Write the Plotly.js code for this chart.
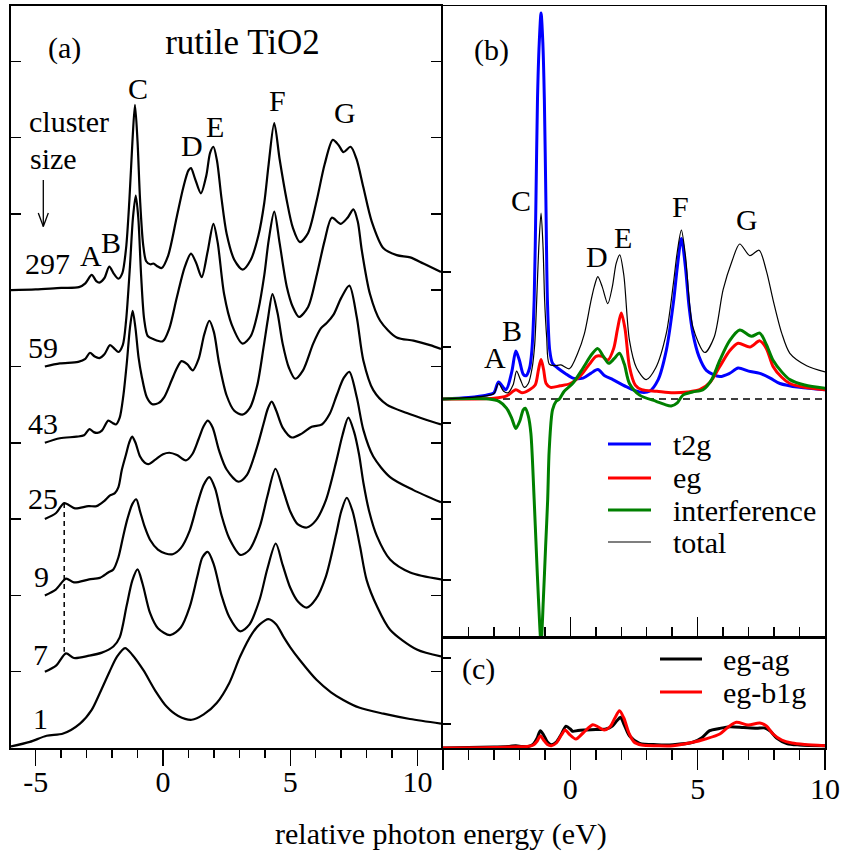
<!DOCTYPE html>
<html>
<head>
<meta charset="utf-8">
<script src="https://cdn.plot.ly/plotly-3.0.1.min.js"></script>
<style>html,body{margin:0;padding:0;background:#fff}#chart{width:844px;height:854px}</style>
</head>
<body>
<div id="chart"></div>
<script>
// ---------- Panel (a): spectra vs cluster size (relative intensity, stacked) ----------
const clusterSizes = ['297','59','43','25','9','7','1'];
const offsets = [6,5,4,3,2,1,0];

const E297 = [-5.97,-5.0,-4.0,-3.3,-3.05,-2.80,-2.62,-2.50,-2.30,-2.11,-1.92,-1.75,-1.60,-1.45,-1.32,-1.20,-1.10,-1.00,-0.90,-0.78,-0.66,-0.50,-0.38,-0.20,-0.05,0.20,0.54,0.80,1.00,1.10,1.25,1.49,1.70,1.85,1.98,2.12,2.30,2.50,2.80,3.13,3.45,3.75,3.98,4.15,4.37,4.58,4.86,5.10,5.38,5.70,6.04,6.35,6.67,6.90,7.09,7.37,7.60,7.87,8.20,8.66,9.18,9.71,10.23,10.92];
const I297 = [0,0.01,0.03,0.04,0.09,0.20,0.12,0.10,0.16,0.31,0.21,0.15,0.22,0.55,1.18,1.95,2.43,1.95,1.18,0.60,0.38,0.34,0.35,0.31,0.29,0.45,0.96,1.35,1.57,1.60,1.47,1.27,1.50,1.80,1.88,1.70,1.20,0.74,0.40,0.27,0.40,0.72,1.15,1.65,2.19,1.72,1.18,0.82,0.63,0.75,1.18,1.65,1.97,1.90,1.81,1.88,1.72,1.35,0.90,0.55,0.46,0.43,0.35,0.24];

const E59 = [-4.64,-4.05,-3.33,-3.05,-2.87,-2.68,-2.50,-2.30,-2.08,-1.90,-1.75,-1.58,-1.45,-1.30,-1.18,-1.07,-0.97,-0.86,-0.74,-0.60,-0.38,-0.01,0.25,0.54,0.85,1.10,1.30,1.52,1.75,1.98,2.15,2.40,2.70,3.13,3.45,3.75,3.98,4.15,4.37,4.58,4.86,5.10,5.34,5.70,6.04,6.35,6.63,6.98,7.25,7.48,7.65,7.81,8.13,8.53,9.18,9.84,10.49,10.92];
const I59 = [0,0.04,0.06,0.10,0.18,0.13,0.11,0.16,0.28,0.23,0.19,0.28,0.60,1.30,1.95,2.24,1.95,1.20,0.62,0.40,0.36,0.33,0.50,0.90,1.30,1.48,1.36,1.17,1.50,1.87,1.62,0.95,0.55,0.30,0.40,0.75,1.20,1.65,2.03,1.62,1.05,0.78,0.65,0.78,1.20,1.65,1.95,1.87,1.95,2.06,1.90,1.52,0.95,0.60,0.38,0.34,0.28,0.23];

const E43 = [-4.64,-4.05,-3.39,-3.10,-2.89,-2.72,-2.58,-2.40,-2.15,-1.98,-1.85,-1.70,-1.56,-1.42,-1.30,-1.19,-1.08,-0.96,-0.84,-0.64,-0.44,-0.18,0.05,0.34,0.55,0.73,0.95,1.17,1.40,1.62,1.82,2.00,2.20,2.50,2.80,3.12,3.40,3.70,3.95,4.12,4.30,4.50,4.70,4.95,5.19,5.50,5.90,6.20,6.43,6.70,7.00,7.32,7.61,7.87,8.26,8.79,9.58,10.36,10.92];
const I43 = [0,0.06,0.08,0.10,0.18,0.14,0.13,0.16,0.29,0.26,0.24,0.33,0.61,1.05,1.50,1.73,1.50,1.12,0.88,0.60,0.51,0.52,0.60,0.82,0.98,1.07,1.03,0.95,1.10,1.42,1.60,1.45,1.05,0.62,0.42,0.37,0.45,0.75,1.25,1.62,1.95,1.70,1.30,0.98,0.84,0.95,1.30,1.50,1.57,1.68,1.90,2.06,1.65,1.08,0.69,0.50,0.39,0.30,0.24];

const E25 = [-4.64,-4.20,-3.88,-3.46,-2.93,-2.61,-2.30,-2.08,-1.89,-1.75,-1.62,-1.45,-1.33,-1.21,-1.08,-0.90,-0.72,-0.58,-0.30,0.00,0.25,0.55,0.90,1.15,1.40,1.60,1.76,1.95,2.20,2.50,2.96,3.30,3.70,3.95,4.12,4.27,4.45,4.70,5.06,5.45,5.84,6.24,6.55,6.82,7.10,7.32,7.61,7.87,8.26,8.92,9.84,10.92];
const I25 = [0,0.08,0.21,0.14,0.17,0.17,0.24,0.31,0.34,0.42,0.64,0.85,1.00,1.08,1.00,0.82,0.74,0.72,0.78,0.85,0.87,0.84,0.77,0.85,1.05,1.22,1.29,1.20,0.90,0.65,0.49,0.58,0.95,1.25,1.45,1.54,1.42,1.20,1.07,1.12,1.21,1.24,1.38,1.62,1.85,1.93,1.60,1.17,0.82,0.55,0.38,0.22];

const E9 = [-4.64,-4.20,-3.81,-3.50,-2.90,-2.48,-2.15,-1.95,-1.75,-1.56,-1.40,-1.20,-1.05,-0.90,-0.72,-0.51,-0.20,0.10,0.38,0.70,1.05,1.35,1.60,1.82,2.05,2.30,2.60,3.05,3.40,3.80,4.10,4.42,4.70,5.00,5.30,5.65,6.00,6.40,6.80,7.05,7.28,7.50,7.70,7.87,8.10,8.40,8.92,9.71,10.92];
const I9 = [0,0.08,0.22,0.17,0.21,0.23,0.30,0.34,0.50,0.78,1.00,1.20,1.26,1.10,0.90,0.73,0.60,0.55,0.54,0.62,0.85,1.20,1.45,1.55,1.40,1.05,0.75,0.53,0.60,0.90,1.30,1.66,1.40,1.10,0.93,0.89,0.98,1.25,1.75,2.10,2.33,2.15,1.85,1.48,1.10,0.78,0.47,0.30,0.21];

const E7 = [-4.64,-4.20,-3.81,-3.50,-2.90,-2.40,-1.95,-1.70,-1.43,-1.20,-1.00,-0.80,-0.51,-0.20,0.28,0.70,1.05,1.35,1.55,1.76,2.00,2.30,2.60,3.03,3.40,3.80,4.10,4.43,4.70,5.00,5.30,5.65,6.00,6.40,6.80,7.00,7.22,7.45,7.74,8.00,8.40,8.92,9.97,10.92];
const I7 = [0,0.08,0.24,0.18,0.21,0.25,0.33,0.45,0.86,1.20,1.34,1.15,0.77,0.57,0.48,0.58,0.85,1.25,1.50,1.57,1.40,1.00,0.72,0.53,0.62,0.95,1.35,1.68,1.40,1.10,0.92,0.84,0.95,1.25,1.80,2.10,2.28,2.10,1.64,1.20,0.86,0.55,0.29,0.20];

const E1 = [-5.97,-5.23,-4.57,-3.92,-3.26,-2.80,-2.48,-2.10,-1.80,-1.49,-1.20,-0.77,-0.30,0.15,0.60,1.13,1.60,2.11,2.60,3.03,3.50,3.80,4.14,4.45,4.73,5.00,5.38,6.04,6.60,7.08,7.70,8.66,9.70,10.92];
const I1 = [0.02,0.08,0.16,0.19,0.32,0.50,0.72,1.00,1.20,1.31,1.22,1.02,0.75,0.54,0.42,0.37,0.44,0.59,0.85,1.20,1.50,1.62,1.69,1.62,1.46,1.32,1.15,0.89,0.73,0.63,0.53,0.45,0.38,0.32];

// dashed marker linking the pre-edge feature (cluster 25 down to cluster 7)
const dashE = [-3.88,-3.88];
const dashY = [3.21,1.26];

// ---------- Panel (b): decomposition ----------
const Eb_t2g = [-5,-4,-3.3,-3.0,-2.82,-2.53,-2.30,-2.14,-2.00,-1.85,-1.74,-1.60,-1.51,-1.42,-1.35,-1.29,-1.22,-1.15,-1.08,-1.02,-0.96,-0.90,-0.81,-0.70,-0.50,-0.20,0.10,0.50,0.80,1.08,1.35,1.67,2.19,2.72,3.11,3.45,3.77,4.05,4.20,4.36,4.52,4.66,4.81,5.05,5.34,5.87,6.25,6.59,7.00,7.44,7.85,8.23,9.00,10.0];
const Ib_t2g = [0,0.02,0.05,0.08,0.22,0.12,0.35,0.62,0.50,0.32,0.30,0.40,0.63,1.28,2.57,3.86,4.60,4.98,4.60,3.86,2.57,1.28,0.63,0.46,0.40,0.33,0.27,0.27,0.33,0.38,0.30,0.25,0.16,0.09,0.10,0.25,0.63,1.25,1.70,2.07,1.70,1.20,0.85,0.55,0.37,0.29,0.33,0.40,0.36,0.33,0.27,0.20,0.15,0.12];

const Eb_eg = [-5,-3.0,-2.50,-2.14,-1.90,-1.60,-1.38,-1.25,-1.15,-1.05,-0.95,-0.78,-0.40,0.0,0.40,0.75,1.01,1.25,1.47,1.70,1.85,2.00,2.15,2.32,2.55,2.80,3.40,4.03,4.60,5.08,5.50,5.87,6.25,6.59,7.05,7.44,7.70,7.96,8.30,8.62,9.20,10.0];
const Ib_eg = [0,0.01,0.04,0.12,0.08,0.12,0.18,0.38,0.51,0.38,0.20,0.15,0.17,0.20,0.30,0.45,0.55,0.55,0.50,0.65,0.90,1.11,0.90,0.42,0.18,0.12,0.10,0.08,0.09,0.12,0.22,0.42,0.62,0.72,0.67,0.75,0.65,0.42,0.28,0.20,0.15,0.12];

const Eb_int = [-5,-3.2,-2.80,-2.50,-2.30,-2.14,-1.98,-1.85,-1.77,-1.65,-1.55,-1.42,-1.33,-1.25,-1.15,-1.06,-0.97,-0.89,-0.83,-0.70,-0.56,-0.43,-0.24,0.09,0.50,0.85,1.08,1.30,1.51,1.72,1.93,2.12,2.32,2.72,3.37,3.70,3.96,4.20,4.42,4.80,5.21,5.55,5.87,6.25,6.65,7.11,7.44,7.70,7.96,8.30,8.62,9.20,10.0];
const Ib_int = [0,0,-0.03,-0.12,-0.25,-0.38,-0.28,-0.14,-0.12,-0.22,-0.44,-1.30,-2.00,-2.59,-3.15,-2.59,-1.90,-1.30,-0.66,-0.14,-0.03,0.0,0.10,0.20,0.40,0.58,0.65,0.55,0.46,0.52,0.59,0.45,0.20,0.05,-0.03,-0.07,-0.09,-0.05,0.05,0.09,0.12,0.25,0.50,0.75,0.89,0.81,0.85,0.70,0.50,0.35,0.25,0.18,0.14];

const Eb_tot = [-5,-3.3,-3.0,-2.82,-2.62,-2.45,-2.25,-2.11,-1.96,-1.81,-1.65,-1.50,-1.40,-1.32,-1.24,-1.15,-1.07,-1.01,-0.93,-0.83,-0.63,-0.37,-0.04,0.30,0.55,0.80,0.94,1.08,1.25,1.47,1.65,1.80,1.94,2.10,2.32,2.60,2.98,3.35,3.77,4.05,4.20,4.36,4.52,4.81,5.28,5.65,6.00,6.35,6.65,7.05,7.41,7.70,7.96,8.30,8.62,9.28,10.0];
const Ib_tot = [0,0.04,0.07,0.20,0.10,0.08,0.18,0.36,0.25,0.15,0.20,0.40,0.70,1.28,1.95,2.40,1.95,1.28,0.80,0.45,0.43,0.44,0.39,0.60,0.84,1.25,1.45,1.58,1.45,1.23,1.45,1.75,1.86,1.60,0.76,0.40,0.25,0.40,0.85,1.50,1.90,2.18,1.85,0.93,0.60,0.80,1.41,1.78,2.00,1.85,1.92,1.65,1.28,0.85,0.59,0.43,0.35];

// ---------- Panel (c): eg split ----------
const Ec_ag = [-5,-3.0,-2.40,-2.14,-1.90,-1.65,-1.45,-1.30,-1.18,-1.05,-0.90,-0.76,-0.55,-0.35,-0.17,0.00,0.09,0.30,0.62,1.00,1.40,1.65,1.82,1.97,2.12,2.32,2.72,3.40,4.03,4.81,5.15,5.47,5.85,6.26,6.80,7.31,7.64,7.85,8.10,8.50,9.00,10.0];
const Ic_ag = [0,0.1,0.15,0.23,0.15,0.15,0.4,1.0,1.73,1.3,0.6,0.33,0.6,1.4,2.17,1.9,1.67,1.75,1.80,1.85,1.90,2.2,2.7,3.07,2.3,1.23,0.47,0.33,0.33,0.57,1.0,1.73,1.95,2.13,2.05,1.97,2.0,1.7,1.0,0.45,0.3,0.23];
const Ec_b1g = [-5,-3.0,-2.14,-1.70,-1.45,-1.30,-1.18,-1.05,-0.90,-0.75,-0.55,-0.35,-0.20,-0.05,0.22,0.50,0.88,1.10,1.33,1.55,1.75,1.93,2.10,2.30,2.50,2.80,3.40,4.03,4.81,5.30,5.87,6.20,6.52,6.98,7.44,7.70,7.96,8.30,8.70,9.20,10.0];
const Ic_b1g = [0,0.05,0.12,0.15,0.3,0.7,1.23,0.8,0.35,0.23,0.5,1.3,1.8,1.4,0.9,1.5,2.33,2.1,1.8,2.1,3.0,3.73,3.0,1.5,0.6,0.3,0.23,0.23,0.57,0.9,1.4,2.1,2.57,2.3,2.5,2.2,1.4,0.8,0.5,0.35,0.23];

const peakLetters = ['A','B','C','D','E','F','G'];

// ---------- layout helpers (pixel -> paper) ----------
const W = 844, H = 854;
const PX = x => x / W;
const PY = y => 1 - y / H;
const FONT = 'Liberation Serif, Times New Roman, serif';
const FS = 30;

const aE = [E297,E59,E43,E25,E9,E7,E1];
const aI = [I297,I59,I43,I25,I9,I7,I1];

const traces = [];
aE.forEach((ex, i) => {
  traces.push({
    x: ex, y: aI[i].map(v => v + offsets[i]), xaxis: 'x', yaxis: 'y',
    mode: 'lines', name: clusterSizes[i], showlegend: false, hoverinfo: 'skip',
    line: {color: '#000', width: 2.2, shape: 'spline', smoothing: 0.8}
  });
});
traces.push({x: dashE, y: dashY, xaxis: 'x', yaxis: 'y', mode: 'lines', showlegend: false,
  line: {color: '#000', width: 1.5, dash: '5px,4px'}});

// panel b
traces.push({x: [-5, 10], y: [0, 0], xaxis: 'x2', yaxis: 'y2', mode: 'lines', showlegend: false,
  line: {color: '#000', width: 1.5, dash: '7px,5px'}});
const bSeries = [
  {n: 't2g', x: Eb_t2g, y: Ib_t2g, c: '#0000ff', w: 3},
  {n: 'eg', x: Eb_eg, y: Ib_eg, c: '#ff0000', w: 3},
  {n: 'interference', x: Eb_int, y: Ib_int, c: '#008000', w: 3},
  {n: 'total', x: Eb_tot, y: Ib_tot, c: '#000000', w: 1.2}
];
bSeries.forEach(s => traces.push({x: s.x, y: s.y, xaxis: 'x2', yaxis: 'y2', mode: 'lines', name: s.n,
  showlegend: false, line: {color: s.c, width: s.w, shape: 'spline', smoothing: 0.8}}));

// panel c
const cSeries = [
  {n: 'eg-ag', x: Ec_ag, y: Ic_ag, c: '#000000'},
  {n: 'eg-b1g', x: Ec_b1g, y: Ic_b1g, c: '#ff0000'}
];
cSeries.forEach(s => traces.push({x: s.x, y: s.y, xaxis: 'x3', yaxis: 'y3', mode: 'lines', name: s.n,
  showlegend: false, line: {color: s.c, width: 3, shape: 'spline', smoothing: 0.8}}));

// ---------- annotations ----------
const ann = [];
function txt(text, x, y, xref, yref, size, xanchor) {
  ann.push({text, x, y, xref, yref, showarrow: false, xanchor: xanchor || 'center', yanchor: 'middle',
    font: {family: FONT, size: size || FS, color: '#000'}});
}
// panel a peak letters
const aLetterE = [-2.84,-2.06,-1.00,1.13,2.04,4.48,7.15];
const aLetterY = [6.45,6.63,8.64,7.90,8.14,8.48,8.33];
peakLetters.forEach((L, i) => txt(L, aLetterE[i], aLetterY[i], 'x', 'y'));
// cluster size labels
const sizeLabelE = [-4.54,-4.73,-4.73,-4.73,-4.79,-4.80,-4.80];
const sizeLabelY = [6.35,5.25,4.25,3.27,2.25,1.22,0.39];
clusterSizes.forEach((s, i) => txt(s, sizeLabelE[i], sizeLabelY[i], 'x', 'y'));
// panel b peak letters
const bLetterE = [-2.96,-2.28,-1.94,1.05,2.06,4.32,6.95];
const bLetterY = [0.53,0.88,2.56,1.84,2.09,2.49,2.31];
peakLetters.forEach((L, i) => txt(L, bLetterE[i], bLetterY[i], 'x2', 'y2'));

txt('(a)', PX(64), PY(48), 'paper', 'paper');
txt('(b)', PX(491), PY(50), 'paper', 'paper');
txt('(c)', PX(479), PY(669), 'paper', 'paper');
txt('cluster', PX(69), PY(122), 'paper', 'paper');
txt('size', PX(54), PY(158), 'paper', 'paper');
txt('relative photon energy (eV)', PX(441), PY(834), 'paper', 'paper');

// legends (b) and (c)
const shapes = [];
const legB = [[444, 't2g'], [478, 'eg'], [510, 'interference'], [542, 'total']];
legB.forEach((l, i) => {
  shapes.push({type: 'line', xref: 'paper', yref: 'paper', x0: PX(608), x1: PX(651), y0: PY(l[0]), y1: PY(l[0]),
    line: {color: bSeries[i].c, width: bSeries[i].w}});
  txt(l[1], PX(671), PY(l[0]), 'paper', 'paper', FS, 'left');
});
const legC = [[659, 'eg-ag'], [692, 'eg-b1g']];
legC.forEach((l, i) => {
  shapes.push({type: 'line', xref: 'paper', yref: 'paper', x0: PX(660), x1: PX(702), y0: PY(l[0]), y1: PY(l[0]),
    line: {color: cSeries[i].c, width: 3}});
  txt(l[1], PX(721), PY(l[0]), 'paper', 'paper', FS, 'left');
});
// "cluster size" arrow
shapes.push({type: 'line', xref: 'paper', yref: 'paper', x0: PX(43.3), x1: PX(43.3), y0: PY(180), y1: PY(226.5), line: {color: '#000', width: 1.3}});
shapes.push({type: 'line', xref: 'paper', yref: 'paper', x0: PX(38.3), x1: PX(43.3), y0: PY(213), y1: PY(226.5), line: {color: '#000', width: 1.3}});
shapes.push({type: 'line', xref: 'paper', yref: 'paper', x0: PX(48.3), x1: PX(43.3), y0: PY(213), y1: PY(226.5), line: {color: '#000', width: 1.3}});

const axBase = {showgrid: false, zeroline: false, showline: true, linecolor: '#000', tickcolor: '#000',
  tickfont: {family: FONT, size: FS, color: '#000'}, fixedrange: true};

const layout = {
  width: W, height: H, margin: {l: 0, r: 0, t: 0, b: 0},
  paper_bgcolor: '#fff', plot_bgcolor: '#fff',
  font: {family: FONT, size: FS, color: '#000'},
  showlegend: false,
  title: {text: 'rutile TiO2', x: PX(242.5), y: PY(42), xref: 'paper', yref: 'paper', xanchor: 'center', yanchor: 'middle',
    font: {family: FONT, size: 35, color: '#000'}},
  xaxis: Object.assign({}, axBase, {domain: [PX(11), PX(441)], range: [-5.97, 10.92], anchor: 'y', linewidth: 2, mirror: true,
    ticks: 'outside', ticklen: 16, tickwidth: 1.5, tickmode: 'array', tickvals: [-5, 0, 5, 10], ticktext: ['-5', '0', '5', '10'],
    ticklabelstandoff: -10,
    minor: {tickmode: 'linear', tick0: 0, dtick: 1, ticks: 'outside', ticklen: 8, tickwidth: 1.5, tickcolor: '#000'}}),
  yaxis: Object.assign({}, axBase, {domain: [PY(748), PY(6)], range: [0, 9.725], anchor: 'x', linewidth: 2, mirror: 'ticks',
    ticks: 'inside', ticklen: 10, tickwidth: 1.5, tickmode: 'linear', tick0: 0, dtick: 1, showticklabels: false}),
  xaxis2: Object.assign({}, axBase, {domain: [PX(443), PX(825)], range: [-5, 10], anchor: 'y2', linewidth: 1.5, mirror: true,
    ticks: 'inside', ticklen: 20, tickwidth: 1.5, tickmode: 'array', tickvals: [-5, 0, 5, 10], showticklabels: false,
    minor: {tickmode: 'linear', tick0: 0, dtick: 1, ticks: 'inside', ticklen: 10, tickwidth: 1.5, tickcolor: '#000'}}),
  yaxis2: Object.assign({}, axBase, {domain: [PY(637), PY(6)], range: [-3.071, 5.071], anchor: 'x2', linewidth: 1.5, mirror: true,
    ticks: 'inside', ticklen: 8, tickwidth: 1.5, tickmode: 'array', tickvals: [1.639, 0.671, -0.310, -1.329, -2.335], showticklabels: false}),
  xaxis3: Object.assign({}, axBase, {domain: [PX(443), PX(825)], range: [-5, 10], anchor: 'y3', linewidth: 1.5, mirror: true,
    ticks: 'outside', ticklen: 20, tickwidth: 1.5, tickmode: 'array', tickvals: [-5, 0, 5, 10], ticktext: ['', '0', '5', '10'],
    ticklabelstandoff: -7,
    minor: {tickmode: 'linear', tick0: 0, dtick: 1, ticks: 'outside', ticklen: 10, tickwidth: 1.5, tickcolor: '#000'}}),
  yaxis3: Object.assign({}, axBase, {domain: [PY(748), PY(637)], range: [0, 11.1], anchor: 'x3', linewidth: 1.5, mirror: true,
    ticks: 'inside', ticklen: 8, tickwidth: 1.5, tickmode: 'array', tickvals: [2.4, 9.0], showticklabels: false}),
  annotations: ann,
  shapes: shapes
};

Plotly.newPlot('chart', traces, layout, {displayModeBar: false, staticPlot: true});
</script>
</body>
</html>
